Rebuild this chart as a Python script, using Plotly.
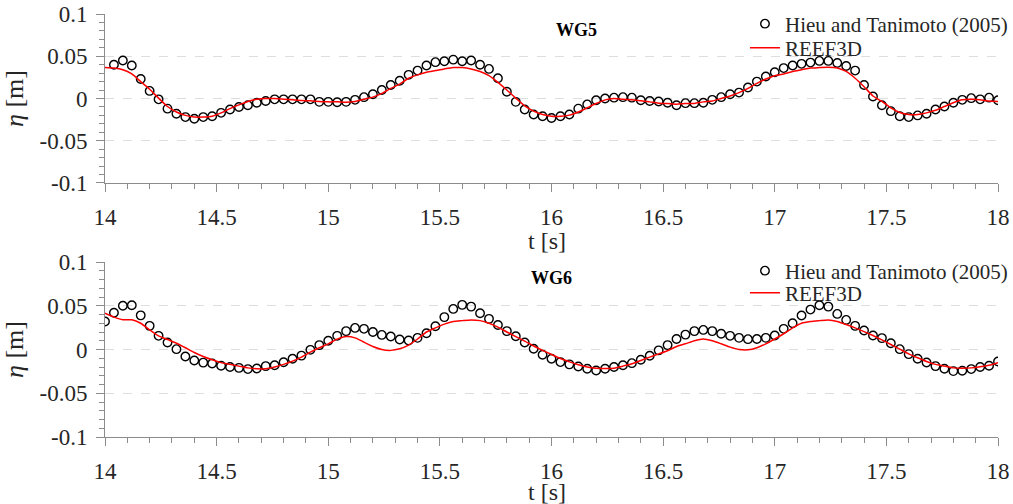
import plotly.graph_objects as go
from plotly.subplots import make_subplots

# sample times [s]
t_all = [14.00, 14.04, 14.08, 14.12, 14.16, 14.20, 14.24, 14.28, 14.32, 14.36,
         14.40, 14.44, 14.48, 14.52, 14.56, 14.60, 14.64, 14.68, 14.72, 14.76,
         14.80, 14.84, 14.88, 14.92, 14.96, 15.00, 15.04, 15.08, 15.12, 15.16,
         15.20, 15.24, 15.28, 15.32, 15.36, 15.40, 15.44, 15.48, 15.52, 15.56,
         15.60, 15.64, 15.68, 15.72, 15.76, 15.80, 15.84, 15.88, 15.92, 15.96,
         16.00, 16.04, 16.08, 16.12, 16.16, 16.20, 16.24, 16.28, 16.32, 16.36,
         16.40, 16.44, 16.48, 16.52, 16.56, 16.60, 16.64, 16.68, 16.72, 16.76,
         16.80, 16.84, 16.88, 16.92, 16.96, 17.00, 17.04, 17.08, 17.12, 17.16,
         17.20, 17.24, 17.28, 17.32, 17.36, 17.40, 17.44, 17.48, 17.52, 17.56,
         17.60, 17.64, 17.68, 17.72, 17.76, 17.80, 17.84, 17.88, 17.92, 17.96,
         18.00]
t_obs5 = t_all[1:]

# WG5 measurements (Hieu and Tanimoto 2005), from 14.04 s
wg5_obs = [0.040, 0.045, 0.039, 0.023, 0.009, -0.001, -0.012, -0.018, -0.022, -0.024,
           -0.022, -0.021, -0.017, -0.013, -0.010, -0.008, -0.005, -0.003, -0.001, -0.001,
           -0.001, -0.001, -0.001, -0.004, -0.004, -0.0045, -0.004, -0.0016, 0.0016, 0.005,
           0.010, 0.016, 0.021, 0.028, 0.033, 0.039, 0.043, 0.044, 0.046, 0.044,
           0.045, 0.040, 0.035, 0.024, 0.008, -0.004, -0.013, -0.019, -0.021, -0.023,
           -0.021, -0.019, -0.012, -0.007, -0.002, 0.000, 0.001, 0.0016, 0.001, -0.002,
           -0.003, -0.0035, -0.005, -0.008, -0.0055, -0.0055, -0.005, -0.0016, 0.0016, 0.005,
           0.007, 0.013, 0.020, 0.026, 0.031, 0.036, 0.039, 0.041, 0.0425, 0.0445,
           0.0445, 0.042, 0.0385, 0.033, 0.016, 0.0024, -0.008, -0.015, -0.021, -0.022,
           -0.020, -0.018, -0.013, -0.0095, -0.005, -0.0016, 0.0004, -0.001, 0.001, -0.002]

# WG5 REEF3D
wg5_num = [0.0366, 0.036, 0.034, 0.029, 0.020, 0.011, 0.0004, -0.0095, -0.016, -0.020,
           -0.022, -0.022, -0.021, -0.017, -0.012, -0.0075, -0.0035, -0.001, 0.000, 0.000,
           -0.0008, -0.0016, -0.0024, -0.0028, -0.0035, -0.004, -0.004, -0.0045, -0.0035, -0.0008,
           0.0016, 0.006, 0.012, 0.017, 0.024, 0.028, 0.031, 0.033, 0.035, 0.0366,
           0.0366, 0.035, 0.032, 0.027, 0.019, 0.010, 0.0004, -0.0087, -0.015, -0.019,
           -0.021, -0.021, -0.0197, -0.016, -0.011, -0.006, -0.0016, 0.000, -0.001, -0.0016,
           -0.0028, -0.004, -0.0055, -0.006, -0.0068, -0.006, -0.0058, -0.004, -0.003, 0.000,
           0.003, 0.007, 0.012, 0.018, 0.023, 0.027, 0.029, 0.032, 0.034, 0.036,
           0.0366, 0.037, 0.036, 0.032, 0.024, 0.014, 0.003, -0.0035, -0.011, -0.0165,
           -0.019, -0.019, -0.017, -0.014, -0.0095, -0.005, -0.0016, -0.001, -0.0016, -0.003,
           -0.0035]

# WG6 measurements
wg6_obs = [0.032, 0.042, 0.050, 0.0505, 0.039, 0.027, 0.0156, 0.008, 0.0004, -0.008,
           -0.0125, -0.015, -0.016, -0.0186, -0.020, -0.021, -0.0224, -0.0217, -0.019, -0.018,
           -0.0145, -0.0106, -0.007, -0.0004, 0.005, 0.010, 0.0156, 0.021, 0.0247, 0.0236,
           0.020, 0.0167, 0.0148, 0.0114, 0.0103, 0.0133, 0.0186, 0.0266, 0.037, 0.0464,
           0.051, 0.049, 0.0414, 0.035, 0.028, 0.021, 0.0152, 0.008, 0.0008, -0.006,
           -0.0106, -0.0144, -0.017, -0.0194, -0.022, -0.024, -0.022, -0.020, -0.018, -0.0156,
           -0.0118, -0.0072, -0.001, 0.005, 0.012, 0.017, 0.021, 0.0224, 0.021, 0.018,
           0.0156, 0.0133, 0.0118, 0.012, 0.0133, 0.016, 0.0236, 0.030, 0.0388, 0.0456,
           0.0506, 0.049, 0.0407, 0.0338, 0.027, 0.0217, 0.016, 0.013, 0.0072, 0.0004,
           -0.0053, -0.0106, -0.0148, -0.019, -0.022, -0.0247, -0.0243, -0.0224, -0.020, -0.0186,
           -0.0137]

# WG6 REEF3D
wg6_num = [0.0414, 0.037, 0.034, 0.034, 0.030, 0.0224, 0.0156, 0.0114, 0.0072, 0.002,
           -0.0034, -0.008, -0.0118, -0.015, -0.017, -0.019, -0.021, -0.022, -0.022, -0.020,
           -0.017, -0.0133, -0.0087, -0.003, 0.002, 0.0065, 0.0118, 0.0148, 0.0133, 0.0084,
           0.0034, 0.000, -0.001, 0.0008, 0.005, 0.012, 0.020, 0.0247, 0.029, 0.032,
           0.033, 0.0338, 0.033, 0.030, 0.0255, 0.020, 0.0148, 0.0095, 0.004, -0.001,
           -0.0057, -0.0103, -0.014, -0.0175, -0.020, -0.0213, -0.0217, -0.0213, -0.019, -0.0163,
           -0.0125, -0.0087, -0.005, -0.0015, 0.0035, 0.0065, 0.010, 0.012, 0.010, 0.0065,
           0.0027, 0.000, -0.0004, 0.002, 0.0065, 0.012, 0.018, 0.0247, 0.030, 0.032,
           0.033, 0.0338, 0.032, 0.0285, 0.0247, 0.0205, 0.016, 0.011, 0.0057, 0.0004,
           -0.005, -0.0095, -0.0137, -0.017, -0.019, -0.021, -0.0213, -0.021, -0.0198, -0.018,
           -0.015]

x_ticks = [14, 14.5, 15, 15.5, 16, 16.5, 17, 17.5, 18]
x_tick_text = ["14", "14.5", "15", "15.5", "16", "16.5", "17", "17.5", "18"]
y_ticks = [-0.1, -0.05, 0, 0.05, 0.1]
y_tick_text = ["-0.1", "-0.05", "0", "0.05", "0.1"]
obs_name = "Hieu and Tanimoto (2005)"
num_name = "REEF3D"
panel_names = ["WG5", "WG6"]
x_title = "t [s]"
y_title = "<i>η</i> [m]"

FONT = "Liberation Serif"
AXC = "#8c8c8c"
TXT = "#262626"

fig = make_subplots(rows=2, cols=1, vertical_spacing=0.187)

panels = [(t_obs5, wg5_obs, t_all, wg5_num, "legend", "legend2"),
          (t_all, wg6_obs, t_all, wg6_num, "legend3", "legend4")]
for i, (to, yo, tn, yn, lg_o, lg_n) in enumerate(panels, start=1):
    fig.add_trace(go.Scatter(x=to, y=yo, mode="markers", name=obs_name,
                             marker=dict(symbol="circle-open", size=8.5, color="black",
                                         line=dict(width=1.4, color="black")),
                             legend=lg_o, showlegend=True), row=i, col=1)
    fig.add_trace(go.Scatter(x=tn, y=yn, mode="lines", name=num_name,
                             line=dict(color="red", width=1.5, shape="spline", smoothing=0.6),
                             legend=lg_n, showlegend=True), row=i, col=1)

axis_common = dict(showline=True, linecolor=AXC, linewidth=1, mirror=False,
                   ticks="outside", tickcolor=AXC, ticklen=8, tickwidth=1,
                   tickfont=dict(family=FONT, size=23, color=TXT), zeroline=False,
                   automargin=False)

for i in (1, 2):
    fig.update_xaxes(range=[14, 18], tickvals=x_ticks, ticktext=x_tick_text,
                     showgrid=False, ticklabelstandoff=5,
                     minor=dict(dtick=0.1, ticklen=5, tickcolor=AXC, ticks="outside", showgrid=False),
                     row=i, col=1, **axis_common)
    fig.update_yaxes(range=[-0.1, 0.1], tickvals=y_ticks, ticktext=y_tick_text,
                     showgrid=True, gridcolor="#dedede", griddash="dash", gridwidth=1,
                     ticklabelstandoff=4,
                     minor=dict(dtick=0.01, ticklen=5, tickcolor=AXC, ticks="outside", showgrid=False),
                     title=dict(text=y_title, font=dict(family=FONT, size=26, color=TXT), standoff=8),
                     row=i, col=1, **axis_common)

fig.update_yaxes(domain=[0.6005, 1.0], row=1, col=1)
fig.update_yaxes(domain=[0.0, 0.4137], row=2, col=1)

leg_common = dict(xanchor="left", yanchor="middle", xref="container", yref="container",
                  bgcolor="rgba(0,0,0,0)",
                  font=dict(family=FONT, size=21, color=TXT), itemwidth=30)
fig.update_layout(
    width=1013, height=504,
    margin=dict(l=105, r=15, t=14, b=67, autoexpand=False),
    plot_bgcolor="white", paper_bgcolor="white",
    font=dict(family=FONT, color=TXT),
    showlegend=True,
    legend=dict(x=0.7354, y=0.9524, **leg_common),
    legend2=dict(x=0.7354, y=0.9048, **leg_common),
    legend3=dict(x=0.7354, y=0.4623, **leg_common),
    legend4=dict(x=0.7354, y=0.4187, **leg_common),
)

# panel labels
fig.add_annotation(text="<b>" + panel_names[0] + "</b>", x=16.114, y=0.081, xref="x", yref="y",
                   showarrow=False, font=dict(family=FONT, size=18, color="black"))
fig.add_annotation(text="<b>" + panel_names[1] + "</b>", x=16.002, y=0.0817, xref="x2", yref="y2",
                   showarrow=False, font=dict(family=FONT, size=18, color="black"))

# x axis titles
fig.add_annotation(text=x_title, x=15.98, y=-0.345, xref="x", yref="y domain",
                   yanchor="middle", showarrow=False, font=dict(family=FONT, size=24, color=TXT))
fig.add_annotation(text=x_title, x=15.98, y=-0.313, xref="x2", yref="y2 domain",
                   yanchor="middle", showarrow=False, font=dict(family=FONT, size=24, color=TXT))

fig.write_html("out.html")
